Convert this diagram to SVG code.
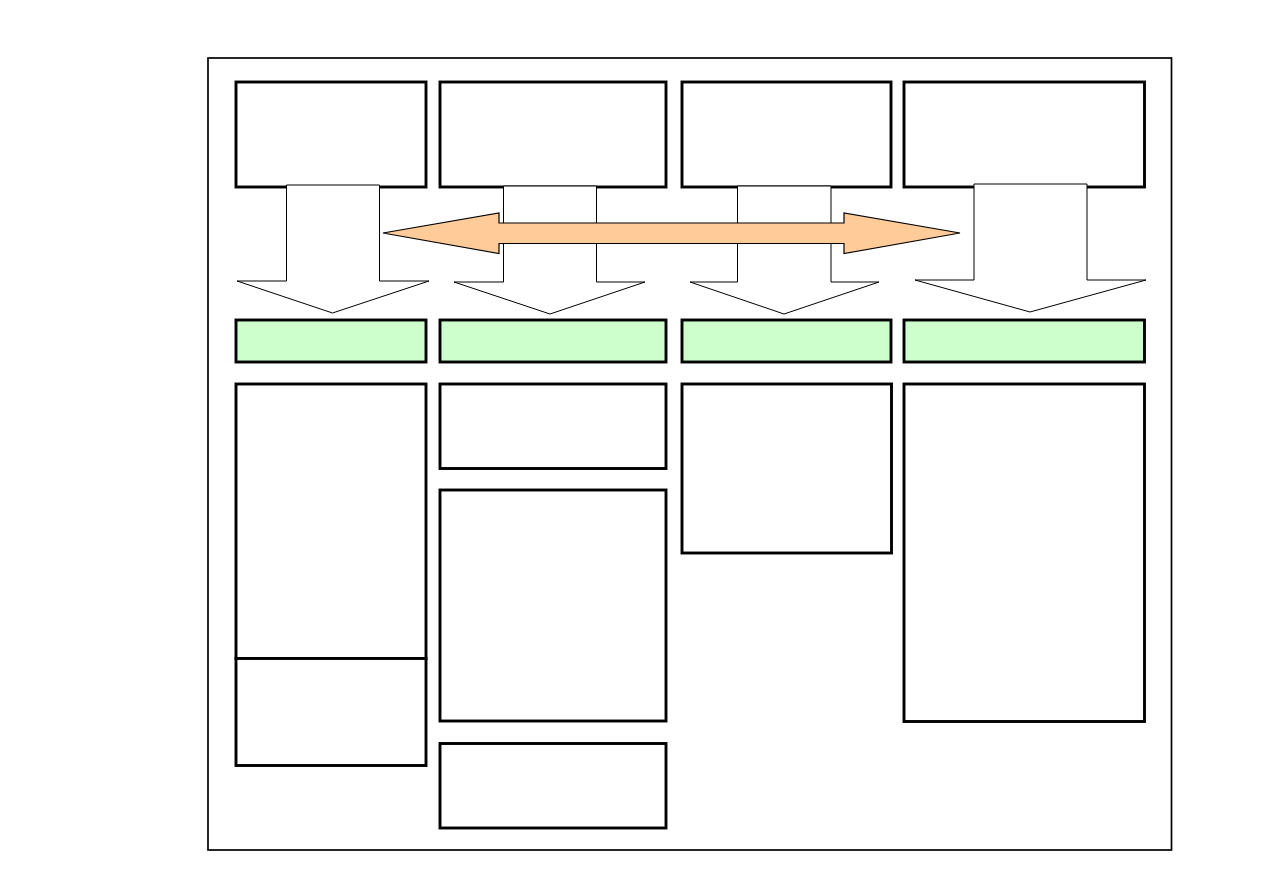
<svg xmlns="http://www.w3.org/2000/svg" width="1263" height="893" viewBox="0 0 1263 893">
<style>
.frame{fill:#fff;stroke:#000;stroke-width:1.7}
.box{fill:#fff;stroke:#000;stroke-width:2.9}
.green{fill:#ccffcc;stroke:#000;stroke-width:2.9}
.down{fill:#fff;stroke:#000;stroke-width:1}
.dbl{fill:#ffcc99;stroke:#000;stroke-width:1.2}
</style>
<rect width="1263" height="893" fill="#fff"/>
<rect id="frame" class="frame" x="208" y="58" width="963.5" height="792"/>
<g id="top-boxes">
<rect id="top1" class="box" x="236" y="82" width="190" height="105"/>
<rect id="top2" class="box" x="440" y="82" width="226" height="105"/>
<rect id="top3" class="box" x="682" y="82" width="209" height="105"/>
<rect id="top4" class="box" x="904" y="82" width="240.5" height="105"/>
</g>
<g id="green-boxes">
<rect id="green1" class="green" x="236" y="320" width="190" height="42"/>
<rect id="green2" class="green" x="440" y="320" width="226" height="42"/>
<rect id="green3" class="green" x="682" y="320" width="209" height="42"/>
<rect id="green4" class="green" x="904" y="320" width="240.5" height="42"/>
</g>
<g id="lower-boxes">
<rect id="c1a" class="box" x="236" y="384" width="190" height="274.5"/>
<rect id="c1b" class="box" x="236" y="658.5" width="190" height="107"/>
<rect id="c2a" class="box" x="440" y="384" width="226" height="84.5"/>
<rect id="c2b" class="box" x="440" y="490" width="226" height="231"/>
<rect id="c2c" class="box" x="440" y="743.5" width="226" height="84.5"/>
<rect id="c3a" class="box" x="682" y="384" width="209.5" height="169"/>
<rect id="c4a" class="box" x="904" y="384" width="240.5" height="337.5"/>
</g>
<g id="connectors">
<polygon id="down1" class="down" points="286.5,185 379.5,185 379.5,281 429,281 332.5,313 237,281 286.5,281"/>
<polygon id="down2" class="down" points="503.5,186 596.5,186 596.5,282 645,282 550,314 454,282 503.5,282"/>
<polygon id="down3" class="down" points="737.5,186 831,186 831,282 879,282 784,314 690,282 737.5,282"/>
<polygon id="down4" class="down" points="974,184 1087,184 1087,280 1146,280 1030,312 915,280 974,280"/>
<polygon id="both" class="dbl" points="383,233 499,213 499,223 844,223 844,213 960,233 844,253.5 844,243.5 499,243.5 499,253.5"/>
</g>
</svg>
